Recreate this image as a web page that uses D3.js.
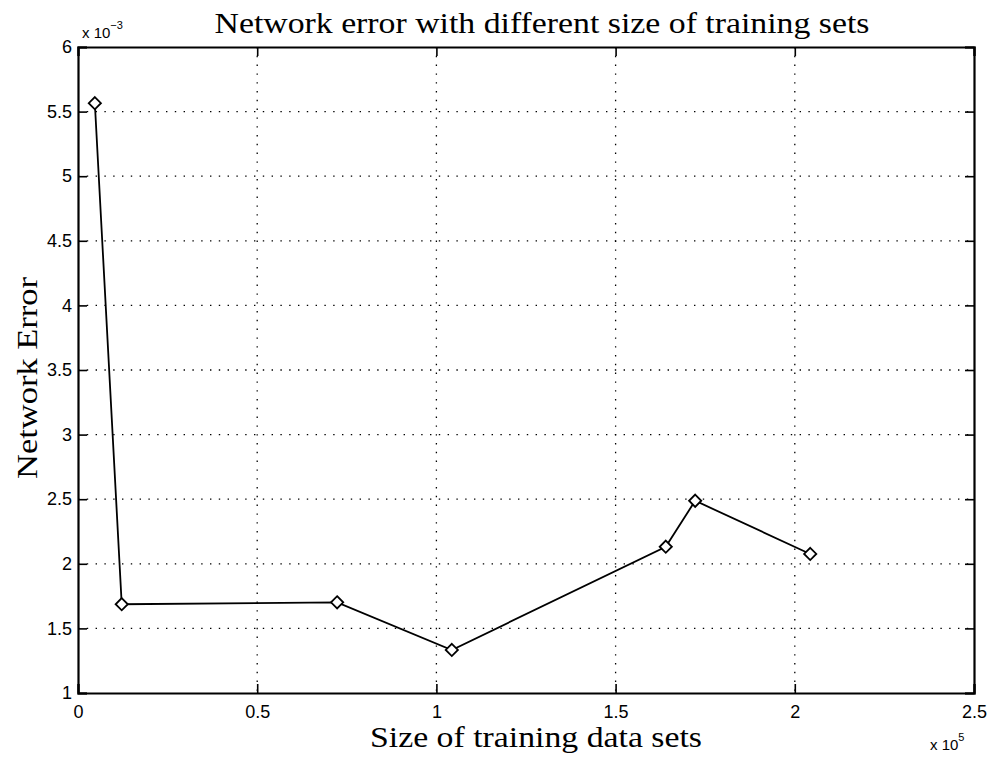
<!DOCTYPE html>
<html>
<head>
<meta charset="utf-8">
<script src="https://cdn.jsdelivr.net/npm/d3@7"></script>
<style>
  html, body { margin: 0; padding: 0; background: #fff; }
  svg { display: block; }
</style>
</head>
<body>
<svg id="chart" width="991" height="757"></svg>
<script>
// Training-set size (samples) and resulting network error
const trainingSize = [4700, 12200, 72300, 104300, 164000, 172200, 204300];
const networkError = [0.005565, 0.001687, 0.001702, 0.001333, 0.002132, 0.002488, 0.002076];

const xTicks = [0, 0.5e5, 1e5, 1.5e5, 2e5, 2.5e5];
const xTickLabels = ["0", "0.5", "1", "1.5", "2", "2.5"];
const yTicks = [0.001, 0.0015, 0.002, 0.0025, 0.003, 0.0035, 0.004, 0.0045, 0.005, 0.0055, 0.006];
const yTickLabels = ["1", "1.5", "2", "2.5", "3", "3.5", "4", "4.5", "5", "5.5", "6"];

const titleText = "Network error with different size of training sets";
const xLabelText = "Size of training data sets";
const yLabelText = "Network Error";

const svg = d3.select("#chart");
const plotLeft = 78, plotRight = 974, plotTop = 47, plotBottom = 693;

const x = d3.scaleLinear().domain([0, 2.5e5]).range([plotLeft, plotRight]);
const y = d3.scaleLinear().domain([0.001, 0.006]).range([plotBottom, plotTop]);

const sans = "'Liberation Sans', Arial, Helvetica, sans-serif";
const serif = "'Liberation Serif', 'Times New Roman', Times, serif";

// Dotted grid
const grid = svg.append("g").attr("stroke", "#000").attr("stroke-width", 1.3)
  .attr("stroke-dasharray", "1.4,7.4");
grid.selectAll("line.vx").data(xTicks.slice(1, -1)).join("line")
  .attr("x1", d => x(d)).attr("x2", d => x(d))
  .attr("y1", plotTop).attr("y2", plotBottom);
grid.selectAll("line.hy").data(yTicks.slice(1, -1)).join("line")
  .attr("x1", plotLeft).attr("x2", plotRight)
  .attr("y1", d => y(d)).attr("y2", d => y(d));

// Axes with inward ticks, box on all four sides
const tickLen = 9;
const xAxisB = d3.axisBottom(x).tickValues(xTicks).tickSize(-tickLen).tickPadding(12)
  .tickFormat((d, i) => xTickLabels[i]);
const xAxisT = d3.axisTop(x).tickValues(xTicks).tickSize(-tickLen).tickFormat("");
const yAxisL = d3.axisLeft(y).tickValues(yTicks).tickSize(-tickLen).tickPadding(6)
  .tickFormat((d, i) => yTickLabels[i]);
const yAxisR = d3.axisRight(y).tickValues(yTicks).tickSize(-tickLen).tickFormat("");

function styleAxis(g) {
  g.select(".domain").attr("stroke", "#000").attr("stroke-width", 2.2);
  g.selectAll(".tick line").attr("stroke", "#000").attr("stroke-width", 1.6);
  g.selectAll(".tick text").attr("fill", "#000").attr("font-family", sans).attr("font-size", 18);
}
svg.append("g").attr("transform", `translate(0,${plotBottom})`).call(xAxisB).call(styleAxis);
svg.append("g").attr("transform", `translate(0,${plotTop})`).call(xAxisT).call(styleAxis);
svg.append("g").attr("transform", `translate(${plotLeft},0)`).call(yAxisL).call(styleAxis);
svg.append("g").attr("transform", `translate(${plotRight},0)`).call(yAxisR).call(styleAxis);

// Data line
const pts = trainingSize.map((s, i) => [s, networkError[i]]);
svg.append("path").datum(pts)
  .attr("fill", "none").attr("stroke", "#000").attr("stroke-width", 1.8)
  .attr("d", d3.line().x(d => x(d[0])).y(d => y(d[1])));

// Diamond markers
const diamond = d3.symbol().type(d3.symbolDiamond2).size(95);
svg.append("g").selectAll("path").data(pts).join("path")
  .attr("transform", d => `translate(${x(d[0])},${y(d[1])})`)
  .attr("d", diamond)
  .attr("fill", "#fff").attr("stroke", "#000").attr("stroke-width", 1.8);

// Title and axis labels
svg.append("text").attr("x", 542).attr("y", 33)
  .attr("text-anchor", "middle").attr("font-family", serif).attr("font-size", 30)
  .attr("textLength", 655).attr("lengthAdjust", "spacingAndGlyphs")
  .text(titleText);
svg.append("text").attr("x", 536).attr("y", 747)
  .attr("text-anchor", "middle").attr("font-family", serif).attr("font-size", 30)
  .attr("textLength", 332).attr("lengthAdjust", "spacingAndGlyphs")
  .text(xLabelText);
svg.append("text").attr("transform", `translate(37,378) rotate(-90)`)
  .attr("text-anchor", "middle").attr("font-family", serif).attr("font-size", 30)
  .attr("textLength", 202).attr("lengthAdjust", "spacingAndGlyphs")
  .text(yLabelText);

// Exponent multipliers
const yExp = svg.append("text").attr("x", 82).attr("y", 38)
  .attr("font-family", sans).attr("font-size", 15);
yExp.append("tspan").text("x 10");
yExp.append("tspan").attr("dy", -9).attr("font-size", 11).text("−3");

const xExp = svg.append("text").attr("x", 930).attr("y", 750)
  .attr("font-family", sans).attr("font-size", 15);
xExp.append("tspan").text("x 10");
xExp.append("tspan").attr("dy", -9).attr("font-size", 11).text("5");
</script>
</body>
</html>
